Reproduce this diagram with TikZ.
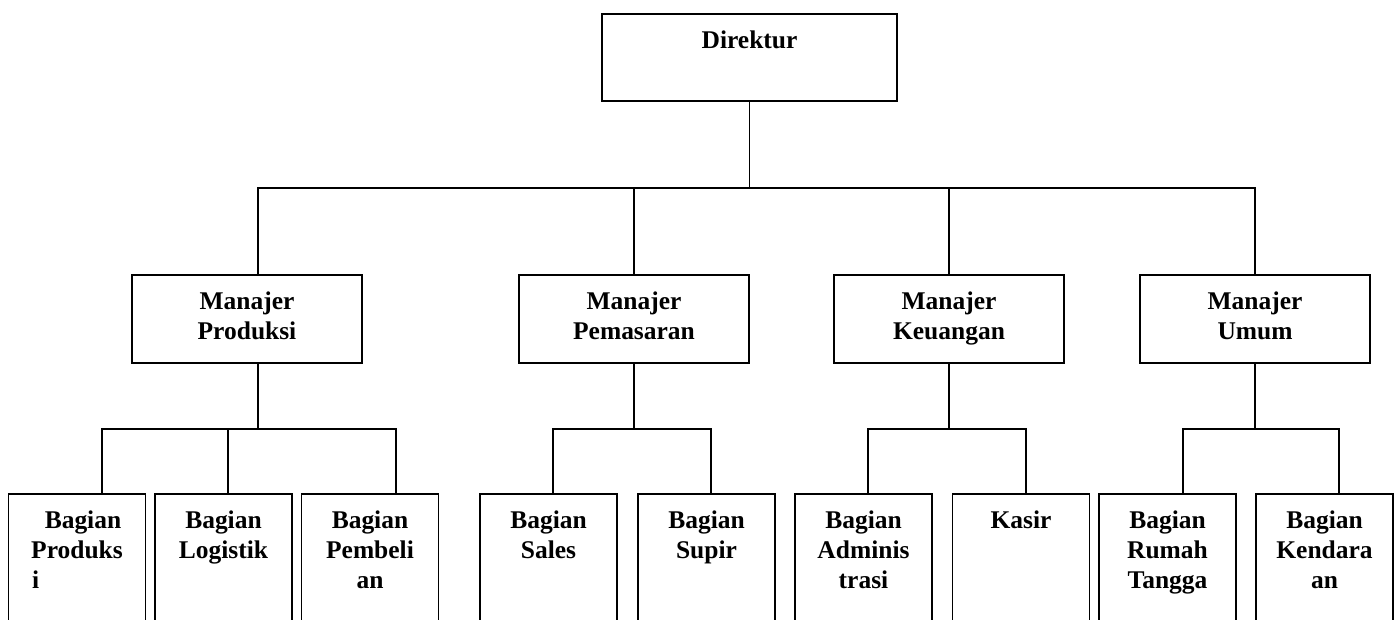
\documentclass[tikz,border=0pt]{standalone}
\usepackage{fontspec}
\setmainfont{Liberation Serif}
\usetikzlibrary{positioning}

\begin{document}
\begin{tikzpicture}[box/.style = {rectangle,draw,line width=1.1pt,anchor=north,inner xsep=1mm,inner ysep=0mm,
                                  align=center,text height=7mm,font=\bfseries\fontsize{14.5}{16.8}\selectfont},
                    direktur/.style = {box,text width=5.7cm,text depth=10.4mm},
                    manajer/.style = {box,text width=4.4cm,text depth=10.6mm},
                    bagian/.style = {box,text width=2.54cm,text depth=40mm},
                    link/.style = {line width=0.9pt}]
    \useasboundingbox (0,0) rectangle (27.98,-12.38);
    \clip (0,0) rectangle (27.98,-12.38);
    \node[direktur] (dir) at (14.99,-0.26) {Direktur};
    \node[manajer] (mprod) at (4.94,-5.48) {Manajer\\Produksi};
    \node[manajer] (mpem) at (12.68,-5.48) {Manajer\\Pemasaran};
    \node[manajer] (mkeu) at (18.98,-5.48) {Manajer\\Keuangan};
    \node[manajer] (mumum) at (25.10,-5.48) {Manajer\\Umum};
    \node[bagian] (bprod) at (1.54,-9.86) {\hspace*{2.4mm}Bagian\\Produks\\\makebox[1.8cm][l]{i}};
    \node[bagian] (blog) at (4.47,-9.86) {Bagian\\Logistik};
    \node[bagian] (bbeli) at (7.40,-9.86) {Bagian\\Pembeli\\an};
    \node[bagian] (bsales) at (10.97,-9.86) {Bagian\\Sales};
    \node[bagian] (bsupir) at (14.13,-9.86) {Bagian\\Supir};
    \node[bagian] (badm) at (17.27,-9.86) {Bagian\\Adminis\\trasi};
    \node[bagian] (kasir) at (20.42,-9.86) {Kasir};
    \node[bagian] (brt) at (23.35,-9.86) {Bagian\\Rumah\\Tangga};
    \node[bagian] (bkend) at (26.49,-9.86) {Bagian\\Kendara\\an};
    % direktur ke manajer
    \foreach \m/\s in {mprod/2.2mm,mpem/0mm,mkeu/0mm,mumum/0mm}
        \draw[link] (dir.south) -- ++(0,-1.72) -| ([xshift=\s]\m.north);
    % manajer ke bagian
    \foreach \m/\s/\b/\t in {mprod/2.2mm/bprod/5mm,mprod/2.2mm/blog/0.9mm,mprod/2.2mm/bbeli/5.2mm,
                             mpem/0mm/bsales/0.9mm,mpem/0mm/bsupir/0.9mm,
                             mkeu/0mm/badm/0.9mm,mkeu/0mm/kasir/1mm,
                             mumum/0mm/brt/3.1mm,mumum/0mm/bkend/2.9mm}
        \draw[link] ([xshift=\s]\m.south) -- ++(0,-1.3) -| ([xshift=\t]\b.north);
\end{tikzpicture}
\end{document}
